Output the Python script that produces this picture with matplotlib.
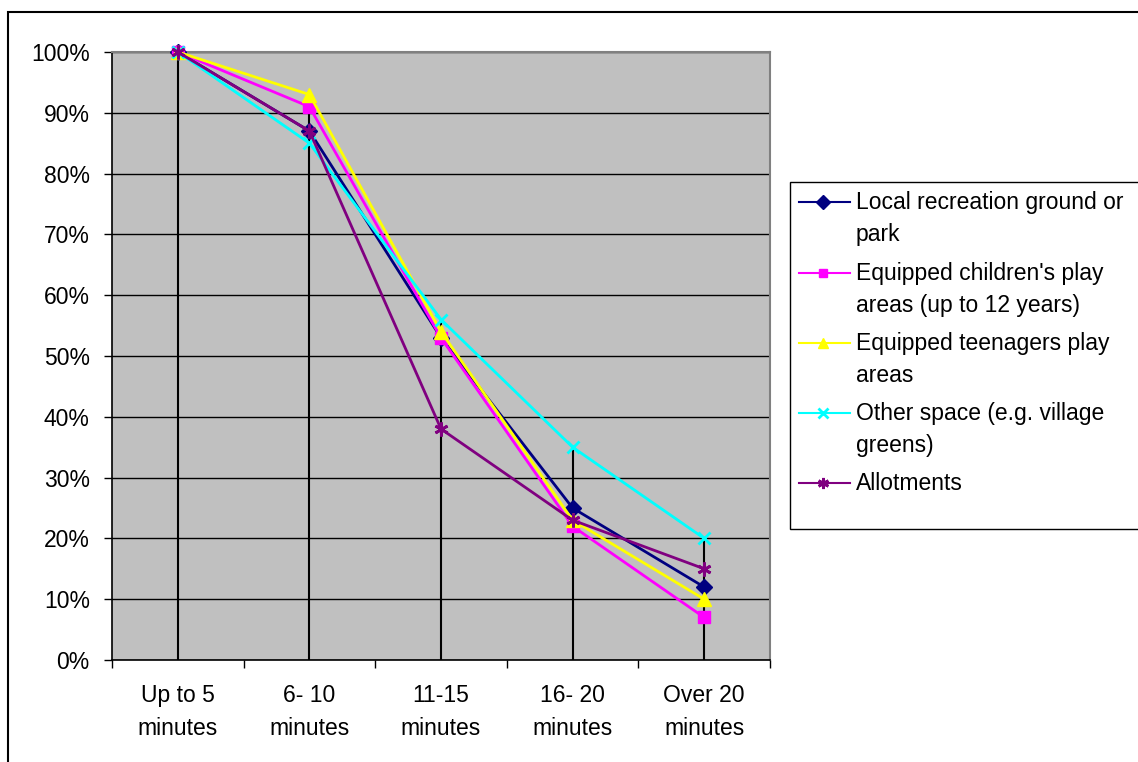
import matplotlib
matplotlib.use("Agg")
import matplotlib.pyplot as plt
from matplotlib.lines import Line2D
from matplotlib.patches import Rectangle
from matplotlib.ticker import FixedLocator, PercentFormatter
import numpy as np

plt.rcParams['font.family'] = ['Liberation Sans', 'DejaVu Sans']

categories = ["Up to 5\nminutes", "6- 10\nminutes", "11-15\nminutes", "16- 20\nminutes", "Over 20\nminutes"]
local_park = [100, 87, 53, 25, 12]
children_play = [100, 91, 53, 22, 7]
teen_play = [100, 93, 54, 23, 10]
other_space = [100, 85, 56, 35, 20]
allotments = [100, 87, 38, 23, 15]

series_names = ["Local recreation ground or\npark",
                "Equipped children's play\nareas (up to 12 years)",
                "Equipped teenagers play\nareas",
                "Other space (e.g. village\ngreens)",
                "Allotments"]
series_values = [local_park, children_play, teen_play, other_space, allotments]
colors = ["#000080", "#FF00FF", "#FFFF00", "#00FFFF", "#800080"]
markers = ["D", "s", "^", "x", (6, 2, 0)]
msizes = [8.5, 8, 9.5, 9, 10]

W, H = 1138, 762
FS = 16.5
fig = plt.figure(figsize=(W / 100, H / 100), dpi=100)
fig.patch.set_facecolor("white")

# outer chart border
fig.add_artist(Rectangle((8 / W, -0.05), 1.2, 1 - 12 / H + 0.05, transform=fig.transFigure,
                         fill=False, edgecolor="black", linewidth=1.5))

ax = fig.add_axes([112 / W, 1 - 660 / H, (770 - 112) / W, (660 - 52) / H])
ax.set_facecolor("#C0C0C0")
x = np.arange(len(categories))

ax.set_xlim(-0.5, len(categories) - 0.5)
ax.set_ylim(0, 100)
ax.yaxis.set_major_locator(FixedLocator(np.arange(0, 101, 10)))
ax.yaxis.set_major_formatter(PercentFormatter(decimals=0))
ax.grid(axis="y", color="black", linewidth=1.0, zorder=1)
ax.set_axisbelow(True)

# drop lines from highest point
tops = np.max(np.array(series_values), axis=0)
ax.vlines(x, 0, tops, color="black", linewidth=1.5, zorder=2)

for vals, c, m, ms in zip(series_values, colors, markers, msizes):
    mew = 2 if m in ("x", (6, 2, 0)) else 1
    ax.plot(x, vals, color=c, marker=m, markersize=ms, linewidth=2,
            markeredgecolor=c, markerfacecolor=c, markeredgewidth=mew, zorder=3, clip_on=False)

ax.set_xticks(x)
ax.set_xticklabels(categories, fontsize=FS, linespacing=1.6)
ax.set_xticks(np.arange(-0.5, len(categories), 1), minor=True)
ax.tick_params(axis="x", which="major", length=0, pad=17)
ax.tick_params(axis="x", which="minor", length=6, width=1, color="black", direction="out")
ax.tick_params(axis="y", length=6, width=1, direction="out", pad=10, labelsize=FS)

for s in ["left", "bottom"]:
    ax.spines[s].set_color("black")
    ax.spines[s].set_linewidth(1.2)
for s in ["top", "right"]:
    ax.spines[s].set_color("#808080")
    ax.spines[s].set_linewidth(1.5)

# legend box (manual, to match wrapped labels)
fig.add_artist(Rectangle((790 / W, 1 - 529 / H), 400 / W, (529 - 182) / H, transform=fig.transFigure,
                         facecolor="white", edgecolor="black", linewidth=1.0))
entry_y = [202, 273, 343, 413, 483]
for name, c, m, ms, yy in zip(series_names, colors, markers, msizes, entry_y):
    yf = 1 - yy / H
    fig.add_artist(Line2D([799 / W, 850 / W], [yf, yf], transform=fig.transFigure, color=c, linewidth=1.5))
    mew = 2 if m in ("x", (6, 2, 0)) else 1
    fig.add_artist(Line2D([823 / W], [yf], transform=fig.transFigure, color=c, marker=m,
                          markersize=ms * 0.8, markerfacecolor=c, markeredgecolor=c, markeredgewidth=mew))
    fig.text(856 / W, 1 - (yy - 11) / H, name, fontsize=FS, va="top", ha="left",
             linespacing=1.52, color="black")

fig.savefig("out.png", dpi=100, facecolor="white")
